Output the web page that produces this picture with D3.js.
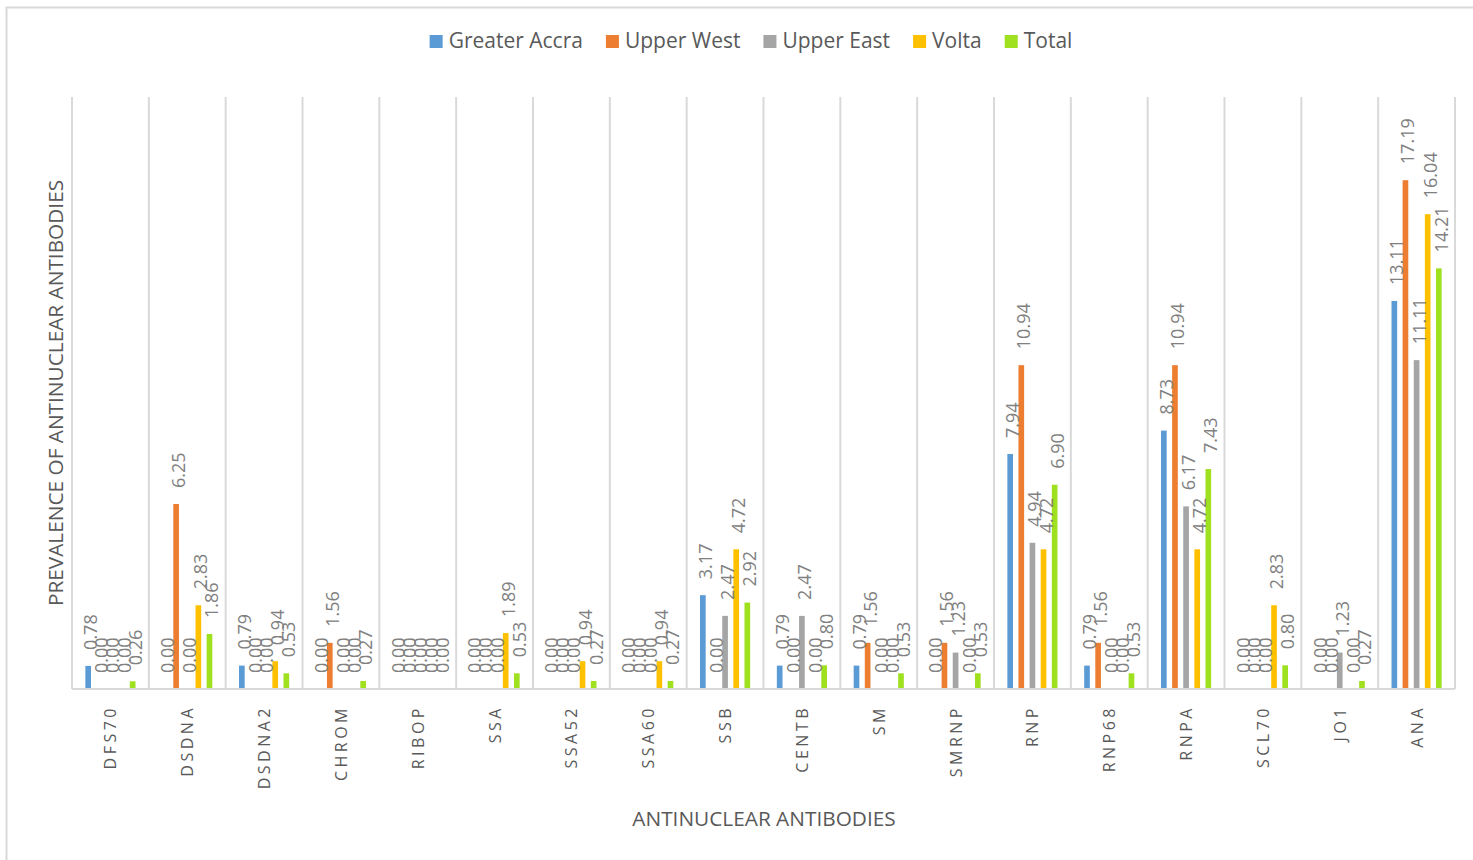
<!DOCTYPE html>
<html>
<head>
<meta charset="utf-8">
<script src="https://cdn.jsdelivr.net/npm/d3@7"></script>
<style>
  html, body { margin: 0; padding: 0; background: #fff; }
  svg { display: block; }
  text { font-family: "Open Sans", Lato, "Noto Sans", sans-serif; }
</style>
</head>
<body>
<svg id="chart" width="1473" height="860"></svg>
<script>
// Antinuclear antibody prevalence (%) by region
const categories = ["DFS70","DSDNA","DSDNA2","CHROM","RIBOP","SSA","SSA52","SSA60","SSB",
                    "CENTB","SM","SMRNP","RNP","RNP68","RNPA","SCL70","JO1","ANA"];
const seriesNames = ["Greater Accra","Upper West","Upper East","Volta","Total"];
const greaterAccra = [0.78,0.00,0.79,0.00,0.00,0.00,0.00,0.00,3.17,0.79,0.79,0.00,7.94,0.79,8.73,0.00,0.00,13.11];
const upperWest    = [0.00,6.25,0.00,1.56,0.00,0.00,0.00,0.00,0.00,0.00,1.56,1.56,10.94,1.56,10.94,0.00,0.00,17.19];
const upperEast    = [0.00,0.00,0.00,0.00,0.00,0.00,0.00,0.00,2.47,2.47,0.00,1.23,4.94,0.00,6.17,0.00,1.23,11.11];
const volta        = [0.00,2.83,0.94,0.00,0.00,1.89,0.94,0.94,4.72,0.00,0.00,0.00,4.72,0.00,4.72,2.83,0.00,16.04];
const total        = [0.26,1.86,0.53,0.27,0.00,0.53,0.27,0.27,2.92,0.80,0.53,0.53,6.90,0.53,7.43,0.80,0.27,14.21];
const yDomain = [0, 20];

const seriesValues = [greaterAccra, upperWest, upperEast, volta, total];
const colors = ["#5b9bd5","#ed7d31","#a5a5a5","#ffc000","#9fe01f"];

const svg = d3.select("#chart");
const W = 1473, H = 860;
const plot = { left: 72, right: 1455, top: 97, bottom: 689 };

// chart frame
svg.append("rect")
  .attr("x", 6.5).attr("y", 7.5)
  .attr("width", W + 10).attr("height", H + 10)
  .attr("fill", "#fff").attr("stroke", "#d9d9d9").attr("stroke-width", 2);

const x0 = d3.scaleBand().domain(categories).range([plot.left, plot.right]).paddingInner(0).paddingOuter(0);
const x1 = d3.scaleBand().domain(seriesNames).range([0, x0.bandwidth()]).paddingInner(0.49).paddingOuter(1.2);
const y = d3.scaleLinear().domain(yDomain).range([plot.bottom, plot.top]);

// vertical separators between categories
const sepX = categories.map(c => x0(c)).concat([plot.right]);
svg.append("g").selectAll("line").data(sepX).join("line")
  .attr("x1", d => d).attr("x2", d => d)
  .attr("y1", plot.top).attr("y2", plot.bottom)
  .attr("stroke", "#d9d9d9").attr("stroke-width", 2);

// bars
const rows = [];
categories.forEach((c, i) => {
  seriesNames.forEach((s, j) => rows.push({ cat: c, series: s, value: seriesValues[j][i], color: colors[j] }));
});

svg.append("g").selectAll("rect").data(rows).join("rect")
  .attr("x", d => x0(d.cat) + x1(d.series))
  .attr("width", x1.bandwidth())
  .attr("y", d => y(d.value))
  .attr("height", d => y(0) - y(d.value))
  .attr("fill", d => d.color);

// baseline
svg.append("line")
  .attr("x1", plot.left).attr("x2", plot.right)
  .attr("y1", plot.bottom).attr("y2", plot.bottom)
  .attr("stroke", "#d9d9d9").attr("stroke-width", 2);

// value labels, rotated
svg.append("g").selectAll("text").data(rows).join("text")
  .attr("transform", d => {
    const cx = x0(d.cat) + x1(d.series) + x1.bandwidth() / 2 + 2;
    return `translate(${cx},${y(d.value) - 16}) rotate(-90)`;
  })
  .attr("text-anchor", "start")
  .attr("dominant-baseline", "central")
  .attr("fill", "#808080")
  .attr("font-size", 18)
  .text(d => d.value.toFixed(2));

// category labels
svg.append("g").selectAll("text").data(categories).join("text")
  .attr("transform", d => `translate(${x0(d) + x0.bandwidth() / 2},${plot.bottom + 16}) rotate(-90)`)
  .attr("text-anchor", "end")
  .attr("dominant-baseline", "central")
  .attr("fill", "#595959")
  .attr("font-size", 16)
  .attr("letter-spacing", 3.5)
  .text(d => d);

// axis titles
svg.append("text")
  .attr("transform", `translate(55,${(plot.top + plot.bottom) / 2}) rotate(-90)`)
  .attr("text-anchor", "middle")
  .attr("dominant-baseline", "central")
  .attr("fill", "#595959")
  .attr("font-size", 20.8)
  .text("PREVALENCE OF ANTINUCLEAR ANTIBODIES");

svg.append("text")
  .attr("x", 764).attr("y", 826)
  .attr("text-anchor", "middle")
  .attr("fill", "#595959")
  .attr("font-size", 20.8)
  .text("ANTINUCLEAR ANTIBODIES");

// legend
const legend = svg.append("g");
const items = legend.selectAll("g").data(seriesNames).join("g");
items.append("rect").attr("width", 13).attr("height", 13).attr("y", -13)
  .attr("fill", (d, i) => colors[i]);
items.append("text").attr("x", 19).attr("y", 0)
  .attr("fill", "#595959").attr("font-size", 21)
  .text(d => d);
let cursor = 0;
items.each(function () {
  d3.select(this).attr("transform", `translate(${cursor},0)`);
  cursor += 19 + this.querySelector("text").getComputedTextLength() + 23;
});
const legendWidth = cursor - 23;
legend.attr("transform", `translate(${751 - legendWidth / 2},48)`);
</script>
</body>
</html>
